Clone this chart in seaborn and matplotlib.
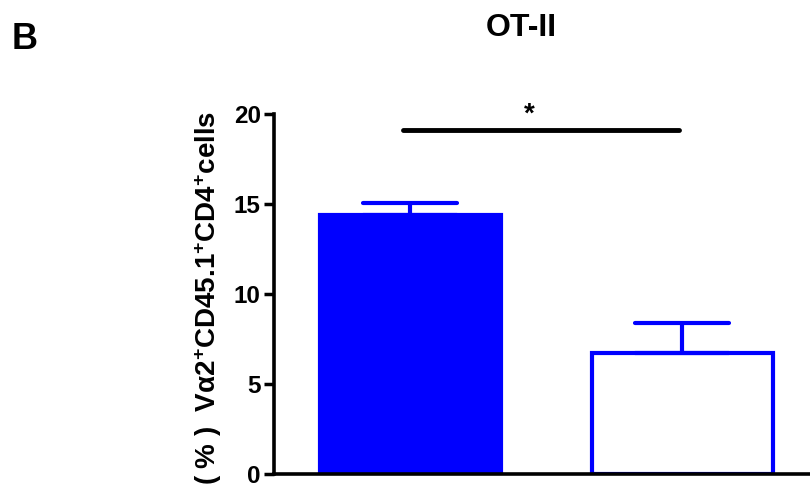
import numpy as np
import pandas as pd
import matplotlib
matplotlib.use("Agg")
import matplotlib.pyplot as plt
from matplotlib.markers import MarkerStyle
import seaborn as sns

# ---- data ----
groups = ["Group 1", "Group 2"]
means = [14.4, 6.7]
sems = [0.64, 1.71]
yticks = [0, 5, 10, 15, 20]
title = "OT-II"
panel = "B"
sig_label = "*"
ylabel = r"( % )  V$\alpha$2$^{+}$CD45.1$^{+}$CD4$^{+}$cells"

sns.set_theme(style="white")
plt.rcParams["font.family"] = ["Liberation Sans", "DejaVu Sans"]
plt.rcParams["font.weight"] = "bold"
plt.rcParams["text.color"] = "black"
plt.rcParams["axes.labelcolor"] = "black"
plt.rcParams["xtick.color"] = "black"
plt.rcParams["ytick.color"] = "black"
plt.rcParams["mathtext.fontset"] = "custom"
plt.rcParams["mathtext.rm"] = "Liberation Sans:bold"
plt.rcParams["mathtext.it"] = "Liberation Sans:bold"
plt.rcParams["mathtext.bf"] = "Liberation Sans:bold"
plt.rcParams["mathtext.default"] = "rm"

blue = "#0000FF"

fig = plt.figure(figsize=(8.1, 4.9), dpi=100)
ax = fig.add_axes([274 / 810, 16 / 490, 536 / 810, 360 / 490])

df = pd.DataFrame({"group": groups, "value": means})
sns.barplot(data=df, x="group", y="value", hue="group",
            palette=[blue, "#FFFFFF"], width=0.665, errorbar=None,
            legend=False, ax=ax, edgecolor=blue, linewidth=3,
            saturation=1)

eb = ax.errorbar(x=np.arange(len(groups)), y=means,
                 yerr=[[0] * len(sems), sems],
                 fmt="none", ecolor=blue, elinewidth=3, capsize=33.5,
                 capthick=3, zorder=5)
for cl in eb[1]:
    cl.set_marker(MarkerStyle("_", capstyle="round"))

ax.set_ylim(0, 20)
ax.set_xlim(-0.5, 1.47)
ax.set_yticks(yticks)
ax.set_xticks([])
ax.set_xlabel("")
ax.set_ylabel(ylabel, fontsize=20, fontweight="bold")
ax.yaxis.set_label_coords(-0.093, 0.49)

for s in ["top", "right"]:
    ax.spines[s].set_visible(False)
for s in ["left", "bottom"]:
    ax.spines[s].set_color("black")
    ax.spines[s].set_linewidth(2.6)
ax.spines["left"].set_bounds(0, 20)

ax.tick_params(axis="y", left=True, labelsize=17.5, width=2.5, length=7,
               direction="out", pad=2.5, colors="black")
for lbl in ax.get_yticklabels():
    lbl.set_fontweight("bold")

# significance bar
ax.plot([-0.025, 0.99], [19.1, 19.1], color="black", lw=3.5,
        solid_capstyle="round", clip_on=False)
ax.text(0.4375, 19.55, sig_label, ha="center", va="baseline",
        fontsize=20, fontweight="bold", clip_on=False)

fig.text(521 / 810, 1 - 36 / 490, title, ha="center", va="baseline",
         fontsize=23, fontweight="bold")
fig.text(12 / 810, 1 - 49 / 490, panel, ha="left", va="baseline",
         fontsize=26, fontweight="bold")

fig.savefig("out.png", dpi=100)
